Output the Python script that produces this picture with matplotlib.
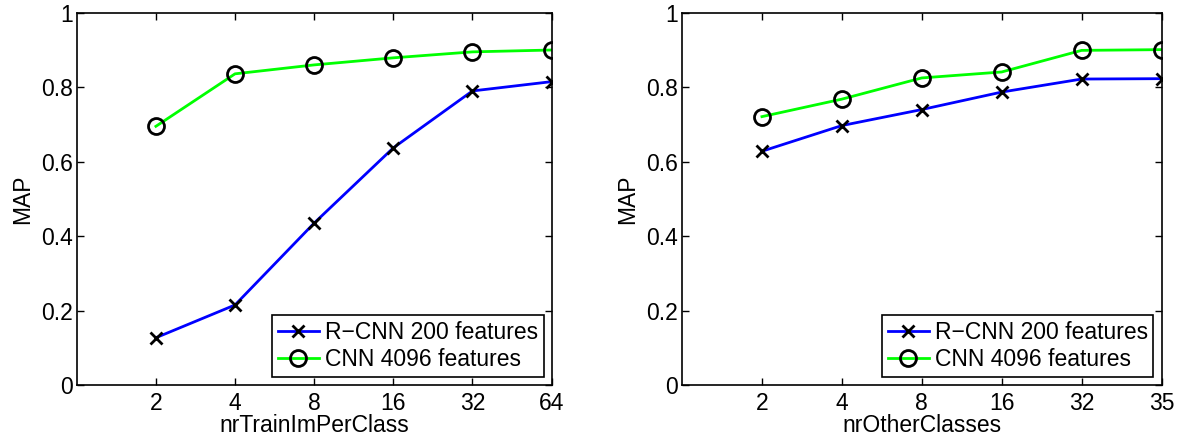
import numpy as np
import matplotlib
matplotlib.use("Agg")
import matplotlib.pyplot as plt

plt.rcParams['font.family'] = ['Liberation Sans', 'DejaVu Sans']

# left panel
train_labels = ['2', '4', '8', '16', '32', '64']
train_rcnn = [0.127, 0.215, 0.435, 0.637, 0.790, 0.815]
train_cnn = [0.695, 0.836, 0.860, 0.879, 0.895, 0.900]

# right panel
other_labels = ['2', '4', '8', '16', '32', '35']
other_rcnn = [0.628, 0.697, 0.740, 0.787, 0.822, 0.823]
other_cnn = [0.721, 0.768, 0.825, 0.841, 0.899, 0.901]

y_ticks = [0, 0.2, 0.4, 0.6, 0.8, 1]
y_labels = ['0', '0.2', '0.4', '0.6', '0.8', '1']

fs = 16.5

fig = plt.figure(figsize=(11.81, 4.41), dpi=100)
ax1 = fig.add_axes([0.065, 0.127, 0.402, 0.844])
ax2 = fig.add_axes([0.5775, 0.127, 0.406, 0.844])

def panel(ax, labels, rcnn, cnn, xlabel):
    x = np.arange(1, len(labels) + 1)
    ax.plot(x, rcnn, color=(0, 0, 1), lw=2, marker='x', ms=8, mew=2,
            mec='black', label='R\u2212CNN 200 features')
    ax.plot(x, cnn, color=(0, 1, 0), lw=2, marker='o', ms=11.5, mew=2,
            mec='black', mfc='none', label='CNN 4096 features')
    ax.set_xlim(0, len(labels))
    ax.set_ylim(0, 1)
    ax.set_xticks(x)
    ax.set_xticklabels(labels)
    ax.set_yticks(y_ticks)
    ax.set_yticklabels(y_labels)
    ax.tick_params(direction='in', top=True, right=True, labelsize=fs,
                   length=5, width=1)
    ax.tick_params(axis='x', pad=5)
    ax.tick_params(axis='y', pad=3)
    ax.set_xlabel(xlabel, fontsize=fs, labelpad=-1)
    ax.set_ylabel('MAP', fontsize=fs, labelpad=5)
    for s in ax.spines.values():
        s.set_linewidth(1.2)
    leg = ax.legend(loc='lower right', fontsize=fs, fancybox=False,
                    edgecolor='black', framealpha=1, handlelength=1.8,
                    borderpad=0.25, labelspacing=0.2, handletextpad=0.25,
                    borderaxespad=0.35)
    leg.get_frame().set_linewidth(1.2)

panel(ax1, train_labels, train_rcnn, train_cnn, 'nrTrainImPerClass')
panel(ax2, other_labels, other_rcnn, other_cnn, 'nrOtherClasses')

fig.savefig('out.png', dpi=100)
